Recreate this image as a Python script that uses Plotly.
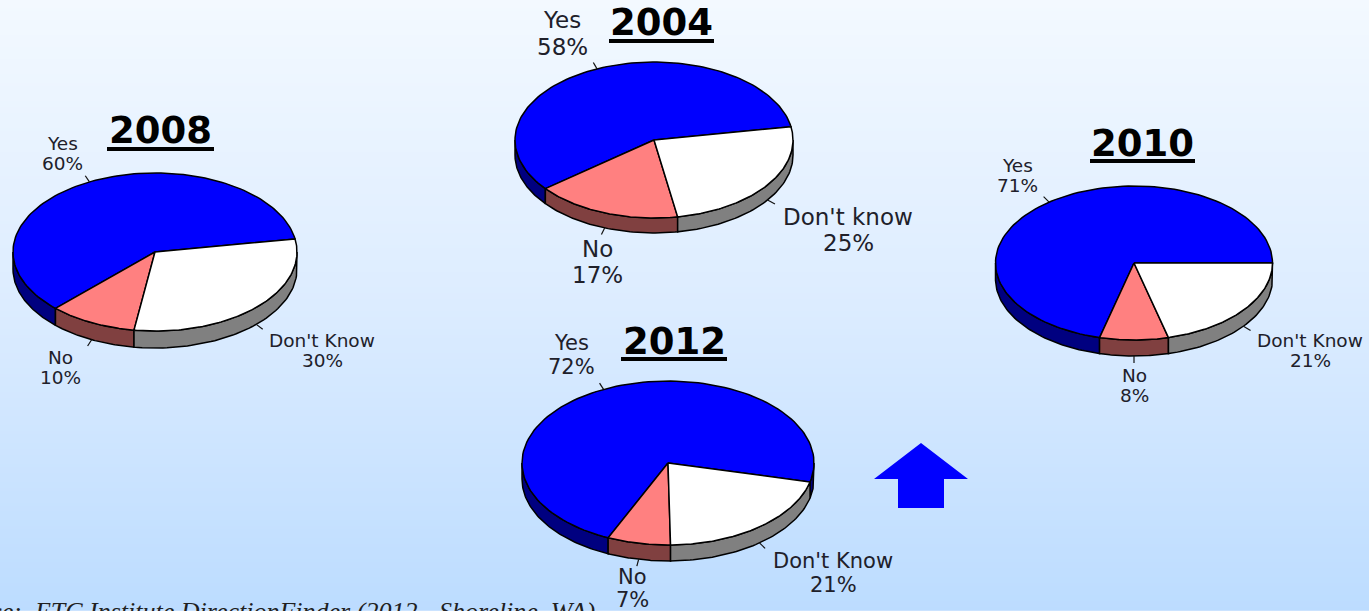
import numpy as np
import plotly.graph_objects as go

# Survey shares per year, in the order the slices run counter-clockwise
YEARS = ["2004", "2008", "2010", "2012"]
YES = [58, 60, 71, 72]
NO = [17, 10, 8, 7]
DONT_KNOW = [25, 30, 21, 21]
DK_LABELS = ["Don't know", "Don't Know", "Don't Know", "Don't Know"]

# Pie placement in page pixels: centre x/y, radius x/y, rim depth, first slice angle
PIE_LAYOUT = {
    "2004": dict(cx=654, cy=140, rx=139, ry=78, depth=15, start=9.8),
    "2008": dict(cx=155, cy=252, rx=142, ry=79, depth=17, start=9.5),
    "2010": dict(cx=1134, cy=263, rx=138.5, ry=77, depth=16, start=0),
    "2012": dict(cx=668, cy=463, rx=146, ry=82, depth=16, start=-13.4),
}
# Title box and text placement: title x0/x1/y, underline y, font sizes, label centres
TEXT_LAYOUT = {
    "2004": dict(tx=(609, 714), ty=22, uy=41, size=23,
                 yes=(562, 20, 47), no=(597, 249, 275), dk=(848, 217, 243)),
    "2008": dict(tx=(107, 214), ty=130, uy=149, size=18.5,
                 yes=(62, 143, 163), no=(60, 357, 377), dk=(322, 340, 360)),
    "2010": dict(tx=(1090, 1195), ty=143, uy=161, size=18.5,
                 yes=(1017, 165, 185), no=(1134, 375, 395), dk=(1310, 340, 360)),
    "2012": dict(tx=(621, 727), ty=341, uy=359, size=21,
                 yes=(571, 343, 367), no=(632, 577, 600), dk=(833, 561, 585)),
}
TOP_COLORS = ["#0000ff", "#ff8080", "#ffffff"]
RIM_COLORS = ["#000080", "#804040", "#808080"]
SOURCE = "Source:  ETC Institute DirectionFinder (2012 - Shoreline, WA)"

fig = go.Figure()

# Page background: pale blue vertical wash
rows = np.arange(0, 612, 3)
fig.add_trace(go.Heatmap(
    x=[0, 1369], y=rows, z=[[r, r] for r in rows], zmin=0, zmax=611,
    colorscale=[[0, "#f3f9ff"], [0.5, "#dcecff"], [1, "#bcdcff"]],
    showscale=False, hoverinfo="skip", xgap=0, ygap=0,
))


def ring(p, t, drop=0.0):
    rad = np.radians(t)
    return p["cx"] + p["rx"] * np.cos(rad), p["cy"] - p["ry"] * np.sin(rad) + drop


def polygon(x, y, color):
    fig.add_trace(go.Scatter(
        x=x, y=y, mode="lines", fill="toself", fillcolor=color,
        line=dict(color="#000000", width=1.5), hoverinfo="skip", showlegend=False,
    ))


def leader(p, t):
    sin_t = np.sin(np.radians(t))
    drop = p["depth"] if sin_t < 0 else 0
    x0, y0 = ring(p, t, drop)
    dx, dy = np.cos(np.radians(t)), -sin_t
    fig.add_trace(go.Scatter(
        x=[x0, x0 + 9 * dx], y=[y0, y0 + 7 * dy], mode="lines",
        line=dict(color="#111111", width=1.2), hoverinfo="skip", showlegend=False,
    ))


def label(text, x, y, size, color="#20202a"):
    fig.add_annotation(
        x=x, y=y, text=text, showarrow=False, xanchor="center", yanchor="middle",
        font=dict(family="DejaVu Sans", size=size, color=color),
    )


for i, year in enumerate(YEARS):
    p = PIE_LAYOUT[year]
    t = TEXT_LAYOUT[year]
    shares = [YES[i], NO[i], DONT_KNOW[i]]
    spans = [s * 3.6 for s in shares]
    edges = p["start"] + np.concatenate([[0], np.cumsum(spans)])

    # Rim: only the parts of each slice on the near (lower) half of the ellipse
    for k in range(3):
        a, b = edges[k], edges[k + 1]
        for lo, hi in ((a, b), (a + 360, b + 360), (a - 360, b - 360)):
            lo2, hi2 = max(lo, 180), min(hi, 360)
            if hi2 > lo2:
                ts = np.linspace(lo2, hi2, 60)
                x1, y1 = ring(p, ts)
                x2, y2 = ring(p, ts[::-1], p["depth"])
                polygon(list(x1) + list(x2) + [x1[0]], list(y1) + list(y2) + [y1[0]],
                        RIM_COLORS[k])

    # Top face of each slice
    for k in range(3):
        ts = np.linspace(edges[k], edges[k + 1], 120)
        x, y = ring(p, ts)
        polygon([p["cx"]] + list(x) + [p["cx"]], [p["cy"]] + list(y) + [p["cy"]],
                TOP_COLORS[k])

    # Short leader ticks at each slice's middle angle
    for k in range(3):
        leader(p, (edges[k] + edges[k + 1]) / 2)

    # Slice labels
    names = ["Yes", "No", DK_LABELS[i]]
    for name, share, key in zip(names, shares, ("yes", "no", "dk")):
        x, y0, y1 = t[key]
        label(name, x, y0, t["size"])
        label(f"{share}%", x, y1, t["size"])

    # Underlined year heading
    label(f"<b>{year}</b>", sum(t["tx"]) / 2, t["ty"], 37, "#000000")
    fig.add_shape(type="line", x0=t["tx"][0], x1=t["tx"][1], y0=t["uy"], y1=t["uy"],
                  line=dict(color="#000000", width=4))

# Upward trend arrow
fig.add_shape(
    type="path",
    path="M 921 443 L 968 479 L 944 479 L 944 508 L 898 508 L 898 479 L 874 479 Z",
    fillcolor="#0000ff", line=dict(width=0),
)

# Source line running off the bottom edge
fig.add_annotation(
    x=597, y=611, text=f"<i>{SOURCE}</i>", showarrow=False,
    xanchor="right", yanchor="middle",
    font=dict(family="Liberation Serif", size=26, color="#202020"),
)

fig.update_layout(
    width=1369, height=611, margin=dict(l=0, r=0, t=0, b=0),
    paper_bgcolor="#dcecff", plot_bgcolor="rgba(0,0,0,0)", showlegend=False,
    xaxis=dict(range=[0, 1369], visible=False, fixedrange=True),
    yaxis=dict(range=[611, 0], visible=False, fixedrange=True),
)

fig.write_html("out.html", config={"displayModeBar": False})
